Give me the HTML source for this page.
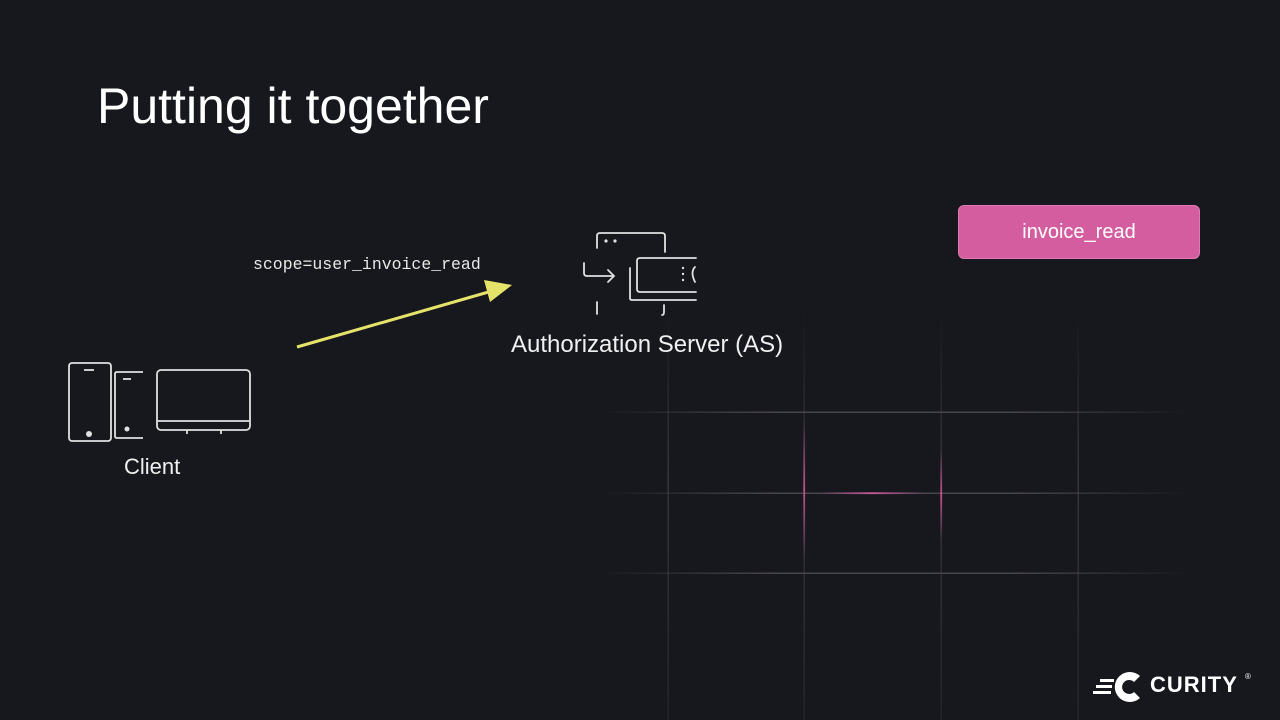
<!DOCTYPE html>
<html><head><meta charset="utf-8"><style>
html,body{margin:0;padding:0;}
body{width:1280px;height:720px;background:#17181d;position:relative;overflow:hidden;font-family:"Liberation Sans",sans-serif;color:#fff;}
.t{position:absolute;white-space:nowrap;}
</style></head><body>
<svg width="1280" height="720" style="position:absolute;left:0;top:0">
<defs>
<linearGradient id="gh" x1="0" x2="1"><stop offset="0" stop-color="#4a4450" stop-opacity="0"/><stop offset="0.3" stop-color="#4a4450"/><stop offset="0.7" stop-color="#4a4450"/><stop offset="1" stop-color="#4a4450" stop-opacity="0"/></linearGradient>
<linearGradient id="gv" x1="0" y1="0" x2="0" y2="1"><stop offset="0" stop-color="#36343c" stop-opacity="0"/><stop offset="0.4" stop-color="#36343c"/><stop offset="1" stop-color="#36343c" stop-opacity="0.4"/></linearGradient>
<linearGradient id="pv" x1="0" y1="0" x2="0" y2="1"><stop offset="0" stop-color="#c0508f" stop-opacity="0"/><stop offset="0.5" stop-color="#c0508f"/><stop offset="1" stop-color="#c0508f" stop-opacity="0"/></linearGradient>
<linearGradient id="ph" x1="0" x2="1"><stop offset="0" stop-color="#c0508f" stop-opacity="0"/><stop offset="0.5" stop-color="#d05a9e"/><stop offset="1" stop-color="#c0508f" stop-opacity="0"/></linearGradient>
</defs>
<rect x="667.5" y="310" width="1.5" height="410" fill="url(#gv)"/>
<rect x="803.5" y="310" width="1.5" height="410" fill="url(#gv)"/>
<rect x="940.5" y="310" width="1.5" height="410" fill="url(#gv)"/>
<rect x="1077.5" y="310" width="1.5" height="410" fill="url(#gv)"/>
<rect x="600" y="411.5" width="590" height="1.5" fill="url(#gh)"/>
<rect x="600" y="492.5" width="590" height="1.5" fill="url(#gh)"/>
<rect x="600" y="572.5" width="590" height="1.5" fill="url(#gh)"/>
<rect x="803.3" y="420" width="1.8" height="140" fill="url(#pv)"/>
<rect x="940.3" y="450" width="1.8" height="90" fill="url(#pv)"/>
<rect x="820" y="492.3" width="105" height="1.8" fill="url(#ph)"/>
<!-- arrow -->
<line x1="297" y1="347" x2="492" y2="291" stroke="#e6e36a" stroke-width="3"/>
<polygon points="512,285 484,280 490,302" fill="#e6e36a"/>
<!-- AS icon -->
<g fill="none" stroke="#e0e0e0" stroke-width="1.8" stroke-linecap="round">
<path d="M597,248 V236 Q597,233 600,233 H662 Q665,233 665,236 V252"/>
<path d="M597,302 V314 M664,305 V312 Q664,315 662,315"/>
<path d="M584,263 V273 Q584,276 587,276 H614 M608,270 L614,276 L608,282"/>
<path d="M630,268 V298 Q630,300 632,300 H696"/>
<path d="M696,258 H640 Q637,258 637,261 V289 Q637,292 640,292 H696"/>
<path d="M695,267 Q690,272 695,282"/>
</g>
<g fill="#e0e0e0"><circle cx="606" cy="241" r="1.6"/><circle cx="615" cy="241" r="1.6"/>
<circle cx="683" cy="268" r="1.2"/><circle cx="683" cy="274" r="1.2"/><circle cx="683" cy="280" r="1.2"/></g>
<!-- client icon -->
<g fill="none" stroke="#e0e0e0" stroke-width="1.8">
<rect x="69" y="363" width="42" height="78" rx="3"/>
<line x1="84" y1="370" x2="94" y2="370"/>
<path d="M143,372 H117 Q115,372 115,374 V436 Q115,438 117,438 H143"/>
<line x1="123" y1="379" x2="131" y2="379"/>
<rect x="157" y="370" width="93" height="60" rx="4"/>
<line x1="157" y1="421" x2="250" y2="421"/>
<line x1="187" y1="430" x2="187" y2="434"/><line x1="221" y1="430" x2="221" y2="434"/>
</g>
<circle cx="89" cy="434" r="3" fill="#e0e0e0"/><circle cx="127" cy="429" r="2.5" fill="#e0e0e0"/>
<!-- logo -->
<g fill="#fff">
<rect x="1100" y="679" width="14" height="3"/><rect x="1096" y="685" width="16" height="3"/><rect x="1093" y="691" width="18" height="3"/>
<path d="M1140,676 A15,15 0 1 0 1140,698 L1134,692 A7,7 0 1 1 1134,682 Z"/>
</g>
</svg>
<div class="t" style="left:97px;top:77px;font-size:50px;color:#fff;">Putting it together</div>
<div class="t" style="left:253px;top:255px;font-family:'Liberation Mono',monospace;font-size:16.5px;color:#e8e8e8;">scope=user_invoice_read</div>
<div class="t" style="left:511px;top:331px;font-size:24px;color:#f0f0f0;">Authorization Server (AS)</div>
<div class="t" style="left:124px;top:454px;font-size:22px;color:#f0f0f0;">Client</div>
<div style="position:absolute;left:958px;top:205px;width:242px;height:54px;background:#d35d9f;border:1px solid #e07ab3;border-radius:6px;box-sizing:border-box;display:flex;align-items:center;justify-content:center;font-size:20px;color:#fff;">invoice_read</div>
<div class="t" style="left:1150px;top:672px;font-size:22px;font-weight:bold;letter-spacing:1px;">CURITY</div>
<div class="t" style="left:1245px;top:672px;font-size:8px;">®</div>
</body></html>
